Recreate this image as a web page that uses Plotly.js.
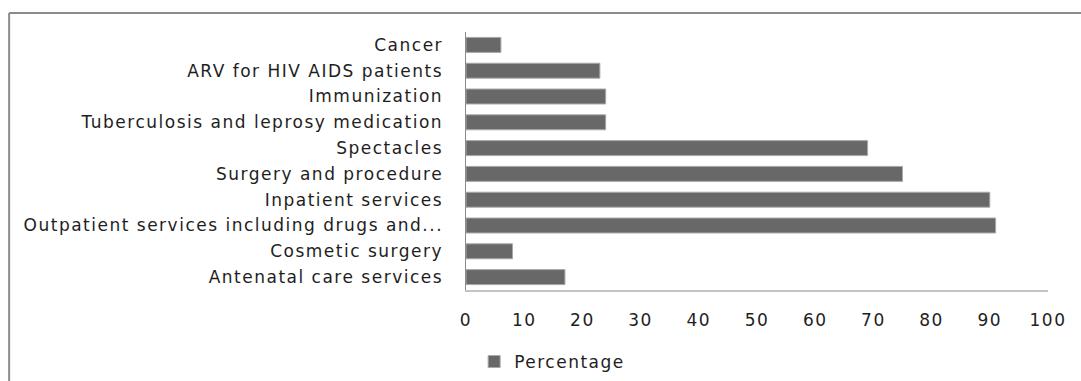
<!DOCTYPE html>
<html>
<head>
<meta charset="utf-8">
<script src="https://cdn.plot.ly/plotly-3.0.1.min.js"></script>
<style>
  html, body { margin: 0; padding: 0; background: #ffffff; }
  #chart { width: 1081px; height: 381px; }
  /* the chart's lettering is set loosely */
  #chart .main-svg text { letter-spacing: 1.5px; }
</style>
</head>
<body>
<div id="chart"></div>
<script>
// Services, listed from the bottom bar to the top bar
const services = [
  "Antenatal care services",
  "Cosmetic surgery",
  "Outpatient services including drugs and...",
  "Inpatient services",
  "Surgery and procedure",
  "Spectacles",
  "Tuberculosis and leprosy medication",
  "Immunization",
  "ARV for HIV AIDS patients",
  "Cancer"
];

// Share of respondents (%) for each service
const percentage = [17, 8, 91, 90, 75, 69, 24, 24, 23, 6];

const xTickValues = [0, 10, 20, 30, 40, 50, 60, 70, 80, 90, 100];

const textFont = { family: "DejaVu Sans, Verdana, sans-serif", size: 17, color: "#1e1e1e" };

const trace = {
  type: "bar",
  orientation: "h",
  name: "Percentage",
  y: services,
  x: percentage,
  marker: { color: "#686868", line: { color: "#a9a9a9", width: 1 } },
  hoverinfo: "y+x"
};

const layout = {
  width: 1081,
  height: 381,
  margin: { l: 466, r: 33, t: 32, b: 91, autoexpand: false },
  paper_bgcolor: "#ffffff",
  plot_bgcolor: "#ffffff",
  font: textFont,
  bargap: 0.42,
  showlegend: true,
  legend: {
    orientation: "h",
    x: 0.014,
    xanchor: "left",
    y: -0.279,
    yanchor: "middle",
    font: textFont,
    entrywidth: 200,
    entrywidthmode: "pixels",
    bgcolor: "rgba(0,0,0,0)"
  },
  xaxis: {
    range: [0, 100],
    tickvals: xTickValues,
    ticktext: xTickValues.map(String),
    showgrid: false,
    zeroline: false,
    showline: true,
    linecolor: "#c4c4c4",
    linewidth: 2,
    ticks: "",
    ticklabelstandoff: 14,
    tickfont: textFont,
    fixedrange: true
  },
  yaxis: {
    type: "category",
    categoryorder: "array",
    categoryarray: services,
    showgrid: false,
    zeroline: false,
    showline: true,
    linecolor: "#8a8a8a",
    linewidth: 1.5,
    ticks: "",
    ticklabelstandoff: 18,
    tickfont: textFont,
    fixedrange: true
  },
  shapes: [
    // outer chart frame: top and left edges
    { type: "line", xref: "paper", yref: "paper",
      x0: -0.785, x1: 1.2, y0: 1.0736, y1: 1.0736,
      line: { color: "#8c8c8c", width: 2 } },
    { type: "line", xref: "paper", yref: "paper",
      x0: -0.785, x1: -0.785, y0: 1.0736, y1: -0.5,
      line: { color: "#8c8c8c", width: 2 } }
  ]
};

Plotly.newPlot("chart", [trace], layout, { displayModeBar: false, staticPlot: true });
</script>
</body>
</html>
